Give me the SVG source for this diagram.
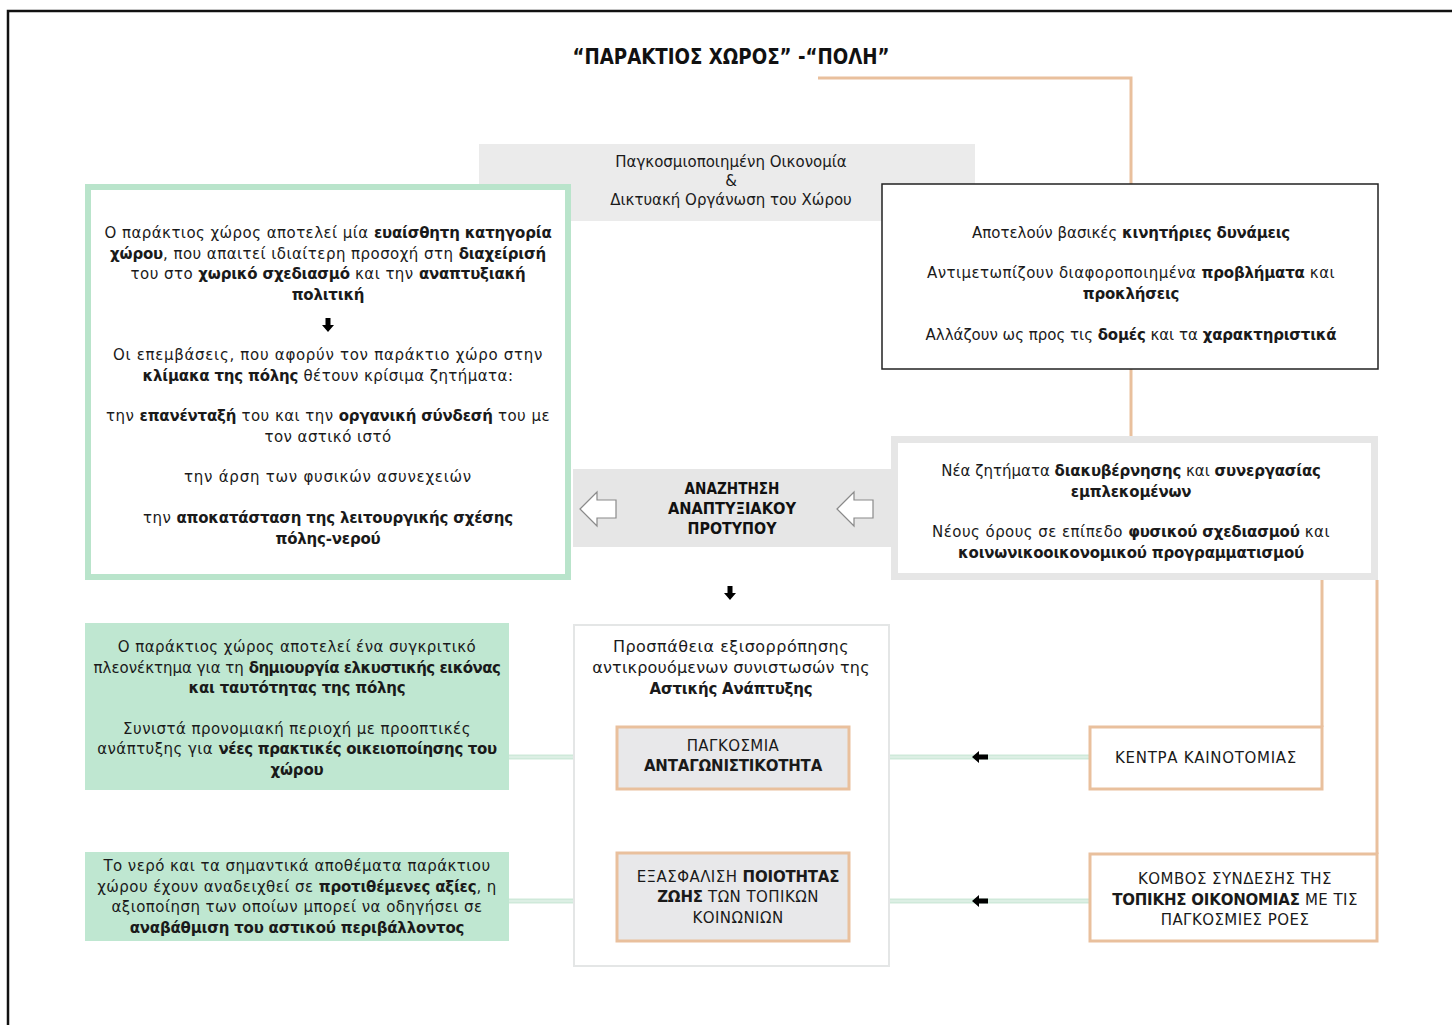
<svg xmlns="http://www.w3.org/2000/svg" width="1452" height="1025" viewBox="0 0 1452 1025">
<style>
.t{font-family:"DejaVu Sans","Liberation Sans",sans-serif;font-size:15px;fill:#1a1a1a;text-anchor:middle;letter-spacing:0.45px}
.b{font-weight:bold;letter-spacing:-0.2px}
.t0{letter-spacing:0}
.big{font-size:16px;letter-spacing:0.5px}
.big .b{font-size:15px;letter-spacing:-0.2px}
.c{font-family:"DejaVu Sans Condensed","DejaVu Sans","Liberation Sans",sans-serif;font-stretch:condensed;font-weight:bold;text-anchor:middle;fill:#111}
.tan{fill:none;stroke:#e9c09d;stroke-width:3}
.grn{fill:none;stroke:#cfe9da;stroke-width:5}
.grnc{fill:none;stroke:#e9f5ee;stroke-width:1}
.hollow{fill:#fff;stroke:#8a8a8a;stroke-width:1.2}
</style>
<defs>
<path id="downArrow" d="M-2.5,-7 H2.5 V0 H6 L0,7 L-6,0 H-2.5 Z" fill="#000"/>
<path id="leftArrow" d="M-8,0 L-1,-6 V-2.5 H8 V2.5 H-1 V6 Z" fill="#000"/>
<path id="hollowLeft" d="M-18,0 L-1,-17 V-9 H18 V9 H-1 V17 Z"/>
</defs>
<rect x="0" y="0" width="1452" height="1025" fill="#fff"/>
<path d="M8,1025 V11 H1452" fill="none" stroke="#111" stroke-width="2.5"/>

<g id="title">
<text class="c" x="731" y="64" font-size="21" textLength="317" lengthAdjust="spacingAndGlyphs">“ΠΑΡΑΚΤΙΟΣ ΧΩΡΟΣ” -“ΠΟΛΗ”</text>
</g>

<g id="connectors">
<path class="tan" d="M818,78 H1131 V184"/>
<path class="tan" d="M1131,369 V437"/>
<path class="tan" d="M1322,580 V727"/>
<path class="tan" d="M1377,580 V854"/>
<path class="grn" d="M509,757 H574"/>
<path class="grnc" d="M509,757 H574"/>
<path class="grn" d="M509,901 H574"/>
<path class="grnc" d="M509,901 H574"/>
<path class="grn" d="M889,757 H1090"/>
<path class="grnc" d="M889,757 H1090"/>
<path class="grn" d="M889,901 H1090"/>
<path class="grnc" d="M889,901 H1090"/>
<use href="#leftArrow" x="980" y="757"/>
<use href="#leftArrow" x="980" y="901"/>
<use href="#downArrow" x="730" y="593"/>
</g>

<g id="global-economy">
<rect x="479" y="144" width="496" height="77" fill="#ebebeb"/>
<text class="t t0" x="731" y="167">Παγκοσμιοποιημένη Οικονομία</text>
<text class="t t0" x="731" y="186">&amp;</text>
<text class="t t0" x="731" y="205">Δικτυακή Οργάνωση του Χώρου</text>
</g>

<g id="coastal-zone">
<rect x="88" y="187" width="480" height="390" fill="#fff" stroke="#b9e4cb" stroke-width="6"/>
<text class="t" x="328" y="238">Ο παράκτιος χώρος αποτελεί μία <tspan class="b">ευαίσθητη κατηγορία</tspan></text>
<text class="t" x="328" y="259"><tspan class="b">χώρου</tspan>, που απαιτεί ιδιαίτερη προσοχή στη <tspan class="b">διαχείρισή</tspan></text>
<text class="t" x="328" y="279">του στο <tspan class="b">χωρικό σχεδιασμό</tspan> και την <tspan class="b">αναπτυξιακή</tspan></text>
<text class="t" x="328" y="300"><tspan class="b">πολιτική</tspan></text>
<use href="#downArrow" x="328" y="325"/>
<text class="t" x="328" y="360" style="letter-spacing:0.7px">Οι επεμβάσεις, που αφορύν τον παράκτιο χώρο στην</text>
<text class="t" x="328" y="381"><tspan class="b">κλίμακα της πόλης</tspan> θέτουν κρίσιμα ζητήματα:</text>
<text class="t" x="328" y="421">την <tspan class="b">επανένταξή</tspan> του και την <tspan class="b">οργανική σύνδεσή</tspan> του με</text>
<text class="t" x="328" y="442">τον αστικό ιστό</text>
<text class="t" x="328" y="482" style="letter-spacing:0.75px">την άρση των φυσικών ασυνεχειών</text>
<text class="t" x="328" y="523">την <tspan class="b">αποκατάσταση της λειτουργικής σχέσης</tspan></text>
<text class="t" x="328" y="544"><tspan class="b">πόλης-νερού</tspan></text>
</g>

<g id="cities">
<rect x="882" y="184" width="496" height="185" fill="#fff" stroke="#222" stroke-width="1.5"/>
<text class="t t0" x="1131" y="238">Αποτελούν βασικές <tspan class="b">κινητήριες δυνάμεις</tspan></text>
<text class="t" x="1131" y="278">Αντιμετωπίζουν διαφοροποιημένα <tspan class="b">προβλήματα</tspan> και</text>
<text class="t" x="1131" y="299"><tspan class="b">προκλήσεις</tspan></text>
<text class="t t0" x="1131" y="340">Αλλάζουν ως προς τις <tspan class="b">δομές</tspan> και τα <tspan class="b">χαρακτηριστικά</tspan></text>
</g>

<g id="search-model">
<rect x="573" y="469" width="320" height="78" fill="#e6e6e6"/>
<text class="c" x="732" y="494" font-size="16" textLength="95" lengthAdjust="spacingAndGlyphs">ΑΝΑΖΗΤΗΣΗ</text>
<text class="c" x="732" y="514" font-size="16" textLength="128" lengthAdjust="spacingAndGlyphs">ΑΝΑΠΤΥΞΙΑΚΟΥ</text>
<text class="c" x="732" y="534" font-size="16" textLength="89" lengthAdjust="spacingAndGlyphs">ΠΡΟΤΥΠΟΥ</text>
<use href="#hollowLeft" class="hollow" x="598" y="509"/>
<use href="#hollowLeft" class="hollow" x="855" y="509"/>
</g>

<g id="governance">
<rect x="894.5" y="439.5" width="480" height="137" fill="#fff" stroke="#e6e6e6" stroke-width="7"/>
<text class="t t0" x="1131" y="476">Νέα ζητήματα <tspan class="b">διακυβέρνησης</tspan> και <tspan class="b">συνεργασίας</tspan></text>
<text class="t" x="1131" y="497"><tspan class="b">εμπλεκομένων</tspan></text>
<text class="t" x="1131" y="537">Νέους όρους σε επίπεδο <tspan class="b">φυσικού σχεδιασμού</tspan> και</text>
<text class="t" x="1131" y="558"><tspan class="b">κοινωνικοοικονομικού προγραμματισμού</tspan></text>
</g>

<g id="urban-development">
<rect x="574" y="625" width="315" height="341" fill="#fff" stroke="#e4e6e6" stroke-width="2"/>
<text class="t big" x="731" y="652">Προσπάθεια εξισορρόπησης</text>
<text class="t big" x="731" y="673" style="letter-spacing:0.2px">αντικρουόμενων συνιστωσών της</text>
<text class="t big" x="731" y="694"><tspan class="b">Αστικής Ανάπτυξης</tspan></text>
</g>

<g id="global-competitiveness">
<rect x="617" y="727" width="232" height="62" fill="#e8e8ea" stroke="#e9c09d" stroke-width="3"/>
<text class="t" x="733" y="751">ΠΑΓΚΟΣΜΙΑ</text>
<text class="t" x="733" y="771"><tspan class="b">ΑΝΤΑΓΩΝΙΣΤΙΚΟΤΗΤΑ</tspan></text>
</g>

<g id="quality-of-life">
<rect x="617" y="853" width="232" height="88" fill="#e8e8ea" stroke="#e9c09d" stroke-width="3"/>
<text class="t" x="738" y="882">ΕΞΑΣΦΑΛΙΣΗ <tspan class="b">ΠΟΙΟΤΗΤΑΣ</tspan></text>
<text class="t" x="738" y="902"><tspan class="b">ΖΩΗΣ</tspan> ΤΩΝ ΤΟΠΙΚΩΝ</text>
<text class="t" x="738" y="923">ΚΟΙΝΩΝΙΩΝ</text>
</g>

<g id="competitive-advantage">
<rect x="85" y="623" width="424" height="167" fill="#bfe7d1"/>
<text class="t" x="297" y="652">Ο παράκτιος χώρος αποτελεί ένα συγκριτικό</text>
<text class="t t0" x="297" y="673">πλεονέκτημα για τη <tspan class="b" style="letter-spacing:-0.5px">δημιουργία ελκυστικής εικόνας</tspan></text>
<text class="t" x="297" y="693"><tspan class="b">και ταυτότητας της πόλης</tspan></text>
<text class="t" x="297" y="734">Συνιστά προνομιακή περιοχή με προοπτικές</text>
<text class="t" x="297" y="754">ανάπτυξης για <tspan class="b" style="letter-spacing:-0.35px">νέες πρακτικές οικειοποίησης του</tspan></text>
<text class="t" x="297" y="775"><tspan class="b">χώρου</tspan></text>
</g>

<g id="water-values">
<rect x="85" y="852" width="424" height="89" fill="#bfe7d1"/>
<text class="t" x="297" y="871">Το νερό και τα σημαντικά αποθέματα παράκτιου</text>
<text class="t" x="297" y="892">χώρου έχουν αναδειχθεί σε <tspan class="b">προτιθέμενες αξίες</tspan>, η</text>
<text class="t" x="297" y="912">αξιοποίηση των οποίων μπορεί να οδηγήσει σε</text>
<text class="t" x="297" y="933"><tspan class="b">αναβάθμιση του αστικού περιβάλλοντος</tspan></text>
</g>

<g id="innovation-centres">
<rect x="1090" y="727" width="232" height="62" fill="#fff" stroke="#e9c09d" stroke-width="3"/>
<text class="t" x="1206" y="763" style="letter-spacing:0.7px">ΚΕΝΤΡΑ ΚΑΙΝΟΤΟΜΙΑΣ</text>
</g>

<g id="local-economy-node">
<rect x="1090" y="854" width="287" height="87" fill="#fff" stroke="#e9c09d" stroke-width="3"/>
<text class="t" x="1235" y="884">ΚΟΜΒΟΣ ΣΥΝΔΕΣΗΣ ΤΗΣ</text>
<text class="t" x="1235" y="905"><tspan class="b">ΤΟΠΙΚΗΣ ΟΙΚΟΝΟΜΙΑΣ</tspan> ΜΕ ΤΙΣ</text>
<text class="t" x="1235" y="925">ΠΑΓΚΟΣΜΙΕΣ ΡΟΕΣ</text>
</g>
</svg>
